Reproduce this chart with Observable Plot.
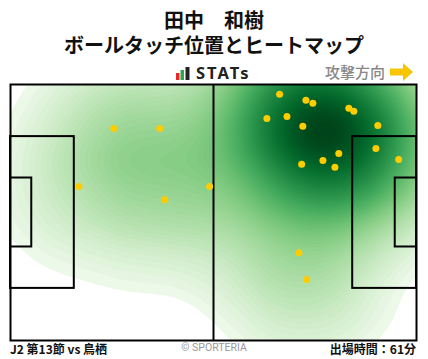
<!DOCTYPE html>
<html>
<head>
<meta charset="utf-8">
<script src="https://cdn.jsdelivr.net/npm/d3@7"></script>
<script src="https://cdn.jsdelivr.net/npm/@observablehq/plot@0.6"></script>
<style>
  html, body { margin: 0; padding: 0; background: #fff; }
  #wrap { position: relative; width: 428px; height: 359px; overflow: hidden; font-family: "Noto Sans CJK JP", "Noto Sans", sans-serif; }
  .abs { position: absolute; white-space: nowrap; }
  .title { left: 0; width: 428px; height: 24px; text-align: center; font-weight: 700; font-size: 20px; line-height: 24px; color: #111; }
  #stats { left: 176px; top: 64px; display: flex; align-items: center; }
  #statsTxt { font-family: "Noto Sans", "DejaVu Sans", sans-serif; font-weight: 700; font-size: 16.5px; letter-spacing: 2px; color: #222; margin-left: 6px; line-height: 18px; }
  #dir { left: 325px; top: 61px; font-size: 15px; color: #888; font-weight: 500; }
  #arrow { left: 390px; top: 62px; }
  #chart { left: 0; top: 80px; }
  .foot { top: 340px; font-size: 12px; font-weight: 700; color: #111; }
  #copy { left: 0; width: 428px; text-align: center; top: 341px; font-size: 10.5px; color: #999; font-family: "Roboto", "Noto Sans", sans-serif; }
</style>
</head>
<body>
<div id="wrap">
  <div class="abs title" style="top:8px;">田中　和樹</div>
  <div class="abs title" style="top:33px;">ボールタッチ位置とヒートマップ</div>
  <div id="stats" class="abs">
    <svg width="14" height="13" viewBox="0 0 14 13"><rect x="0" y="6" width="3.5" height="7" fill="#e8282b"/><rect x="4.5" y="3" width="3.5" height="10" fill="#2aa84a"/><rect x="9.5" y="0" width="4" height="13" fill="#222"/></svg>
    <span id="statsTxt">STATs</span>
  </div>
  <div id="dir" class="abs">攻撃方向</div>
  <svg id="arrow" class="abs" width="24" height="20" viewBox="0 0 24 20"><polygon points="0,6.5 13,6.5 13,1 23,10 13,19 13,13.5 0,13.5" fill="#f7c600"/></svg>
  <div id="chart" class="abs"></div>
  <div class="abs foot" style="left:10px;">J2 第13節 vs 鳥栖</div>
  <div id="copy" class="abs">© SPORTERIA</div>
  <div class="abs foot" style="right:12px;">出場時間：61分</div>
</div>
<script>
// Ball touch positions (metres; x along 105 m attacking to the right, y from top touchline, 68 m)
const touchX = [26.7, 38.6, 17.7, 39.9, 51.5, 69.6, 76.4, 78.2, 87.5, 88.8, 66.3, 71.5, 75.6, 95.0, 94.5, 100.4, 84.9, 80.8, 75.3, 83.9, 74.6, 76.6];
const touchY = [11.7, 11.7, 27.1, 30.6, 27.1, 2.6, 4.2, 5.0, 6.3, 7.1, 9.0, 8.5, 11.1, 10.9, 17.0, 19.9, 18.3, 20.2, 21.2, 22.0, 44.7, 51.8];

// Pitch dimensions (metres)
const pitchLength = 105;
const pitchWidth = 68;
const penaltyDepth = 16.5;
const penaltyWidth = 40.32;
const goalAreaDepth = 5.5;
const goalAreaWidth = 18.32;

const touches = touchX.map((x, i) => ({x, y: touchY[i]}));

const cy = pitchWidth / 2;
const boxes = [
  {x1: 0, x2: penaltyDepth, y1: cy - penaltyWidth / 2, y2: cy + penaltyWidth / 2},
  {x1: pitchLength - penaltyDepth, x2: pitchLength, y1: cy - penaltyWidth / 2, y2: cy + penaltyWidth / 2},
  {x1: 0, x2: goalAreaDepth, y1: cy - goalAreaWidth / 2, y2: cy + goalAreaWidth / 2},
  {x1: pitchLength - goalAreaDepth, x2: pitchLength, y1: cy - goalAreaWidth / 2, y2: cy + goalAreaWidth / 2}
];
const halfway = [{x: pitchLength / 2, y1: 0, y2: pitchWidth}];

// heat colour ramp: below a cutoff it's white (blank), above it light→dark green
const heatCut = 0.018;
const heatInterp = t => t < heatCut ? "#ffffff"
  : d3.interpolateGreens(0.04 + 0.96 * Math.pow((t - heatCut) / (1 - heatCut), 0.67));

const chart = Plot.plot({
  width: 428,
  height: 265,
  marginLeft: 10,
  marginRight: 12,
  marginTop: 4,
  marginBottom: 5,
  x: {domain: [0, pitchLength], axis: null},
  y: {domain: [0, pitchWidth], reverse: true, axis: null},
  color: {type: "linear", interpolate: heatInterp},
  style: {background: "transparent"},
  marks: [
    Plot.density(touches, {x: "x", y: "y", fill: "density", bandwidth: 47, thresholds: 80, clip: true}),
    Plot.rect(boxes, {x1: "x1", x2: "x2", y1: "y1", y2: "y2", fill: "none", stroke: "black", strokeWidth: 2}),
    Plot.ruleX(halfway, {x: "x", y1: "y1", y2: "y2", stroke: "black", strokeWidth: 2}),
    Plot.dot(touches, {x: "x", y: "y", r: 3.5, fill: "#ffcc00", stroke: "none"}),
    Plot.frame({stroke: "black", strokeWidth: 2})
  ]
});
document.getElementById("chart").appendChild(chart);
</script>
</body>
</html>
